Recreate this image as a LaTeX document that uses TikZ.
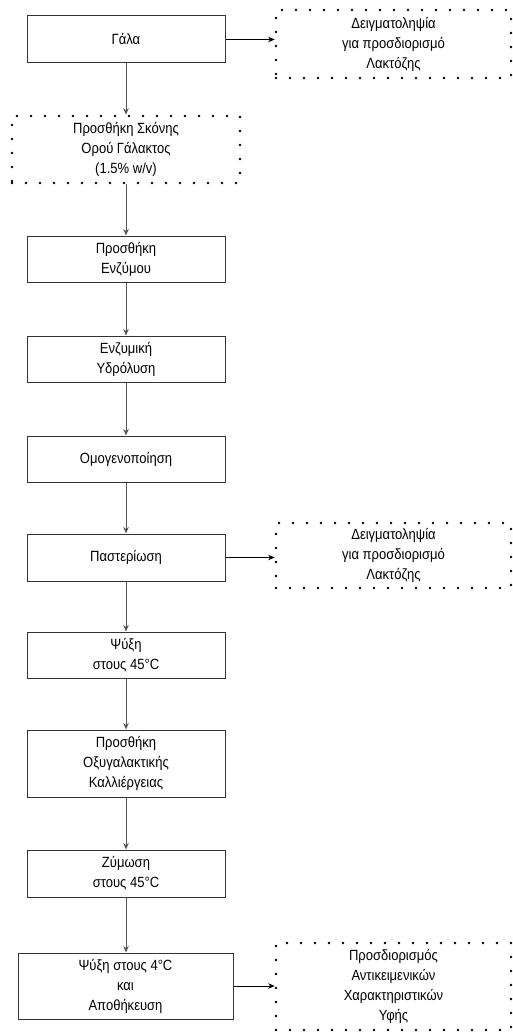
\documentclass[tikz,border=0pt]{standalone}
\usepackage{fontspec}
\setmainfont[FakeStretch=0.88]{Liberation Sans}
\usetikzlibrary{arrows.meta}
\definecolor{edge}{HTML}{333333}
\definecolor{conn}{HTML}{555555}
\tikzset{
  stepbox/.style={draw=edge, line width=1pt, minimum width=198pt, align=center, inner sep=0pt, font=\fontsize{14.8}{20}\selectfont},
  dotbox/.style={draw=black, line width=2.7pt, line cap=round, dash pattern=on 0pt off 14pt, align=center, inner sep=0pt, font=\fontsize{14.8}{20}\selectfont},
  conn/.style={draw=conn, line width=1pt, -{Stealth[length=6.5pt,width=5.5pt]}},
  hconn/.style={draw=black, line width=0.8pt, -{Stealth[length=6.5pt,width=5.5pt]}}
}
\begin{document}
\begin{tikzpicture}[x=1pt,y=-1pt]
\useasboundingbox (0,0) rectangle (512,1032);
\node[stepbox, minimum height=47pt] (b1) at (126,39.5) {Γάλα};
\node[dotbox, minimum width=228pt, minimum height=67pt] (b2) at (126,149.5) {Προσθήκη Σκόνης\\Ορού Γάλακτος\\(1.5\% w/v)};
\node[stepbox, minimum height=46pt] (b3) at (126,259) {Προσθήκη\\Ενζύμου};
\node[stepbox, minimum height=46pt] (b4) at (126,359) {Ενζυμική\\Υδρόλυση};
\node[stepbox, minimum height=46pt] (b5) at (126,459) {Ομογενοποίηση};
\node[stepbox, minimum height=47pt] (b6) at (126,557.5) {Παστερίωση};
\node[stepbox, minimum height=46pt] (b7) at (126,655) {Ψύξη\\στους 45°C};
\node[stepbox, minimum height=67pt] (b8) at (126,763.5) {Προσθήκη\\Οξυγαλακτικής\\Καλλιέργειας};
\node[stepbox, minimum height=47pt] (b9) at (126,873.5) {Ζύμωση\\στους 45°C};
\node[stepbox, minimum width=215pt, minimum height=66pt] (b10) at (125.5,986) {Ψύξη στους 4°C\\και\\Αποθήκευση};
\node[dotbox, minimum width=235pt, minimum height=68pt] (sA) at (393.5,44) {Δειγματοληψία\\για προσδιορισμό\\Λακτόζης};
\node[dotbox, minimum width=235pt, minimum height=65pt] (sB) at (393.5,555.5) {Δειγματοληψία\\για προσδιορισμό\\Λακτόζης};
\node[dotbox, minimum width=235pt, minimum height=87pt] (sC) at (393.5,986.5) {Προσδιορισμός\\Αντικειμενικών\\Χαρακτηριστικών\\Υφής};
\draw[conn] (b1) -- (b2);
\draw[conn] (b2) -- (b3);
\draw[conn] (b3) -- (b4);
\draw[conn] (b4) -- (b5);
\draw[conn] (b5) -- (b6);
\draw[conn] (b6) -- (b7);
\draw[conn] (b7) -- (b8);
\draw[conn] (b8) -- (b9);
\draw[conn] (b9.south) -- (b9.south |- b10.north);
\draw[hconn] (b1.east) -- (b1.east -| sA.west);
\draw[hconn] (b6.east) -- (b6.east -| sB.west);
\draw[hconn] (b10.east) -- (b10.east -| sC.west);
\end{tikzpicture}
\end{document}
